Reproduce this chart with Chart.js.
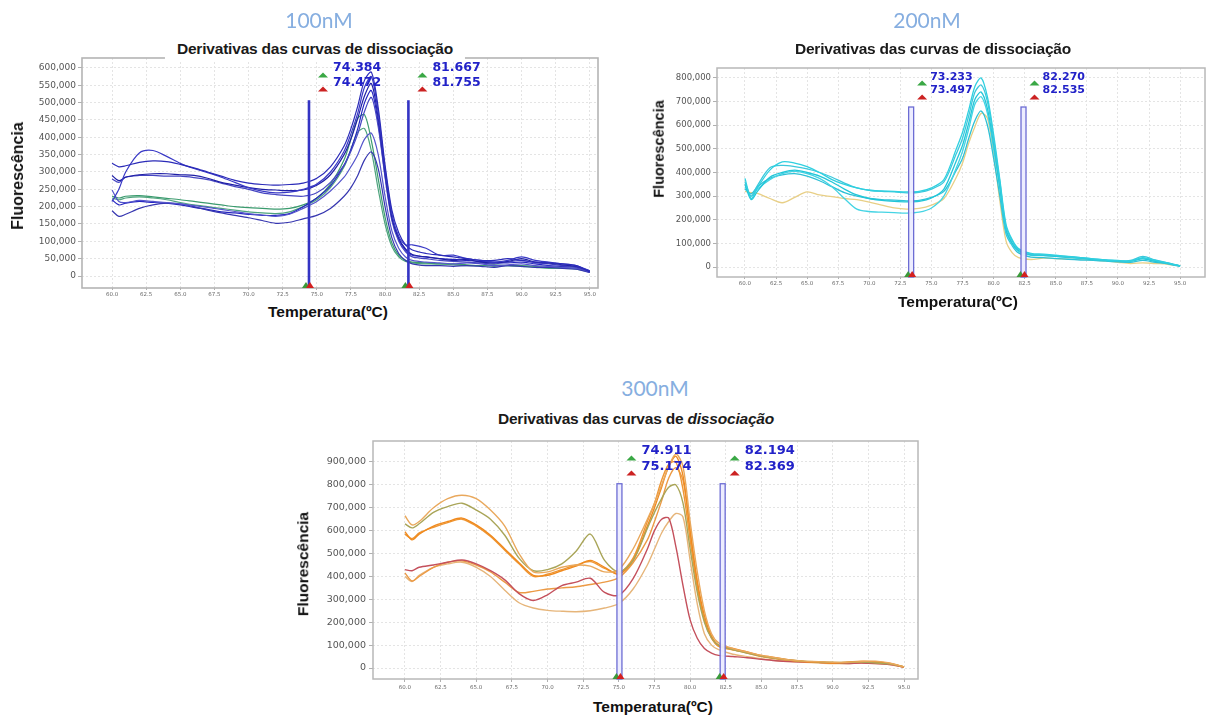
<!DOCTYPE html>
<html><head><meta charset="utf-8">
<script src="https://cdn.jsdelivr.net/npm/chart.js@4.4.1/dist/chart.umd.min.js"></script>
<style>
html,body{margin:0;padding:0;background:#fff;width:1211px;height:720px;overflow:hidden;position:relative;font-family:"Liberation Sans",Arial,sans-serif}
canvas{position:absolute}
.t{position:absolute;transform:translate(-50%,-50%);white-space:nowrap;line-height:1}
.nm{font-family:Lato,"Open Sans",sans-serif;font-size:21px;color:#86aee0}
.ttl{font-weight:bold;font-size:15.5px;color:#1a1a1a;letter-spacing:-0.2px}
.ax{font-weight:bold;color:#111}
.rot{transform:translate(-50%,-50%) rotate(-90deg)}
</style></head><body>
<canvas id="c1" width="612" height="302" style="left:0;top:0"></canvas>
<canvas id="c2" width="571" height="300" style="left:640px;top:0"></canvas>
<canvas id="c3" width="640" height="265" style="left:290px;top:430px"></canvas>

<div class="t nm" style="left:319px;top:19px">100nM</div>
<div class="t nm" style="left:927px;top:19px">200nM</div>
<div class="t nm" style="left:655px;top:387px">300nM</div>

<div class="t ttl" style="left:315px;top:49px;background:#fff;padding:4px 12px">Derivativas das curvas de dissociação</div>
<div class="t ttl" style="left:933px;top:49px">Derivativas das curvas de dissociação</div>
<div class="t ttl" style="left:636px;top:419px">Derivativas das curvas de <i>dissociação</i></div>

<div class="t ax rot" style="left:18px;top:176px;font-size:16px">Fluorescência</div>
<div class="t ax rot" style="left:659px;top:149px;font-size:14.5px">Fluorescência</div>
<div class="t ax rot" style="left:303px;top:564px;font-size:15.5px">Fluorescência</div>

<div class="t ax" style="left:328px;top:312px;font-size:15.5px">Temperatura(ºC)</div>
<div class="t ax" style="left:958px;top:302px;font-size:15.5px">Temperatura(ºC)</div>
<div class="t ax" style="left:653px;top:707px;font-size:15.5px">Temperatura(ºC)</div>

<script>
// ---- shared temperature grid (ºC) and axis ticks ----
const temps = [60,60.5,61,62,63,64,65,66,67,68,69,70,71,72,73,74,75,76,77,77.5,78,78.5,79,79.5,80,80.5,81,81.5,82,83,84,85,86,87,88,89,90,91,92,93,94,95];
const xTicks = [60,62.5,65,67.5,70,72.5,75,77.5,80,82.5,85,87.5,90,92.5,95];
const yTicks100 = [0,50,100,150,200,250,300,350,400,450,500,550,600];
const yTicks200 = [0,50,100,150,200,250,300,350,400,450,500,550,600,650,700,750,800];
const yTicks300 = [0,100,200,300,400,500,600,700,800,900];

// ---- melting temperature markers ----
const melt100 = [74.384, 74.472, 81.667, 81.755];
const melt200 = [73.233, 73.497, 82.270, 82.535];
const melt300 = [74.911, 75.174, 82.194, 82.369];

// ---- 100nM curves (fluorescence derivative, thousands) ----
const n100_1 = [325,315,318, 328,332,330,322,312,300,288,276, 268,264,262,264,268,282,315, 375,425,490,565,588,485,320,190,125,90,75, 65,60,55,50,45,45,50,45,40,38,35,30,12];
const n100_2 = [215,250,300, 355,362,345,325,310,298,285,270, 255,245,240,242,250,265,300, 360,410,470,545,575,470,310,180,115,90,90, 80,60,60,50,45,40,45,55,45,40,35,30,15];
const n100_3 = [290,275,285, 292,295,295,292,290,282,270,262, 255,250,248,246,248,262,292, 350,395,455,520,555,455,300,170,110,78,62, 55,50,45,48,40,38,42,50,40,38,32,28,15];
const n100_4 = [280,270,285, 290,290,288,288,284,278,268,258, 250,240,235,232,230,240,270, 320,360,410,475,515,430,285,160,100,70,55, 50,45,42,40,38,35,40,45,38,35,30,25,10];
const n100_5 = [248,215,212, 218,215,212,208,203,198,192,186, 180,176,172,178,195,215,245, 285,315,350,395,412,350,230,130,80,55,45, 40,38,35,38,35,30,32,35,30,28,25,22,15];
const n100_6 = [188,172,178, 195,205,210,208,200,190,182,175, 168,160,152,155,165,175,195, 230,255,290,335,358,310,200,110,65,45,35, 30,30,28,30,28,25,30,28,25,25,22,20,10];
const n100_7 = [220,205,210, 215,212,210,205,198,192,185,182, 178,175,175,180,200,225,260, 320,365,425,500,535,440,290,165,105,75,60, 55,50,48,45,42,40,38,40,35,30,28,25,12];
const n100_8 = [230,225,230, 232,228,224,220,215,210,205,200, 197,195,193,195,205,225,265, 335,395,455,465,390,280,170,95,60,45,40, 38,35,35,32,30,32,30,30,28,25,25,22,15];
const n100_9 = [225,220,225, 228,225,220,212,205,200,195,190, 185,182,180,185,200,220,255, 315,365,415,425,360,250,150,85,55,42,38, 35,35,32,30,30,28,30,28,25,22,22,20,12];

// ---- 200nM curves ----
const n200_1 = [375,290,335, 410,445,440,425,400,370,350,335, 325,322,320,318,320,335, 370,500,570,665,765,800,720,560,370,180,115,78, 58,55,50,45,40,35,30,28,25,40,28,18,5];
const n200_2 = [360,300,345, 420,430,425,415,400,380,355,335, 325,320,318,314,316,330, 360,480,545,640,740,770,700,540,360,170,110,75, 55,52,48,44,40,35,30,26,28,45,30,18,5];
const n200_3 = [350,285,320, 380,400,410,400,385,360,330,305, 290,282,278,276,278,292, 330,450,515,610,710,740,670,520,340,160,100,70, 52,50,45,42,38,32,28,24,25,35,24,16,4];
const n200_4 = [340,300,330, 370,395,405,395,375,340,290,245, 235,232,230,228,232,250, 300,420,490,585,690,720,650,500,330,150,95,66, 50,48,45,40,36,32,28,24,24,38,26,16,4];
const n200_5 = [330,310,340, 375,390,395,385,365,340,315,300, 290,285,283,280,282,295, 320,410,460,545,620,660,600,460,300,140,90,60, 42,40,36,33,30,28,25,22,20,28,20,14,3];
const n200_6 = [320,315,312, 290,272,295,318,305,298,290,285, 275,262,250,245,248,262, 290,380,440,525,595,650,630,480,280,110,60,40, 32,38,36,34,33,30,26,20,15,18,15,12,5];

// ---- 300nM curves ----
const n300_1 = [665,625,640, 700,740,755,740,690,620,500,420, 420,440,450,445,420, 430,520,650,720,800,880,935,880,640,420,250,150,110, 85,70,55,45,35,30,28,25,25,28,30,22,5];
const n300_2 = [630,612,630, 680,705,720,690,650,580,480,425, 430,455,510,585,470, 420,470,610,680,740,790,800,720,520,330,200,130,100, 80,65,52,42,35,30,27,25,24,26,22,18,5];
const n300_3 = [595,560,585, 620,640,655,625,580,520,460,405, 405,425,445,470,440, 410,470,620,700,790,880,925,840,600,380,230,140,100, 85,70,55,45,35,28,25,22,25,30,28,20,5];
const n300_4 = [585,565,590, 615,635,650,620,575,515,455,400, 410,430,450,465,435, 415,480,640,720,820,890,900,780,560,350,210,135,95, 80,68,52,42,34,28,26,23,24,28,26,18,5];
const n300_5 = [430,425,440, 450,462,472,455,425,385,325,295, 320,360,375,392,330, 318,390,520,600,650,655,530,360,210,130,85,65,55, 50,45,38,32,28,26,25,22,20,22,20,15,4];
const n300_6 = [415,380,400, 440,462,468,450,420,375,330,335, 345,350,355,365,375, 395,460,560,640,730,830,875,820,600,370,210,130,95, 80,65,50,40,32,28,25,22,22,25,22,18,4];
const n300_7 = [400,378,405, 440,455,462,440,400,340,285,262, 252,248,246,250,262, 282,345,450,520,590,640,675,660,470,280,150,100,80, 60,50,40,33,28,25,22,20,20,22,20,15,3];

// ---- styles ----
const colors100 = ['#2b2bb8','#3a3ac6','#2020a6','#4646c2','#5555cc','#3636b0','#2424c0','#3b9b6e','#4fa47e'];
const colors200 = ['#2fd0e0','#3cc8dc','#22c6d8','#45d4e4','#2ec0d6','#e8cf86'];
const colors300 = ['#e9a85c','#a9a558','#f08a1e','#ee9634','#c4505c','#ec9a45','#e6b57a'];

function fmtY(v){ return String(Math.round(v*1000)).replace(/\B(?=(\d{3})+(?!\d))/g, ','); }

function tri(ctx, cx, cy, w, h, color){
  ctx.beginPath();
  ctx.moveTo(cx - w/2, cy + h/2);
  ctx.lineTo(cx, cy - h/2);
  ctx.lineTo(cx + w/2, cy + h/2);
  ctx.closePath();
  ctx.fillStyle = color; ctx.fill();
}

const cursorPlugin = {
  id: 'cursors',
  beforeDatasetsDraw(chart, args, o){
    const {ctx, chartArea:a} = chart;
    ctx.save();
    ctx.strokeStyle = o.frameColor; ctx.lineWidth = o.frameWidth;
    ctx.strokeRect(a.left, a.top, a.right - a.left, a.bottom - a.top);
    ctx.restore();
  },
  afterDatasetsDraw(chart, args, o){
    const {ctx, chartArea:a, scales:{x, y}} = chart;
    const m = o.melts;
    ctx.save();
    [[m[0], m[1]], [m[2], m[3]]].forEach(([p, q]) => {
      const px = x.getPixelForValue((p + q) / 2);
      const top = y.getPixelForValue(o.top);
      const bot = a.bottom;
      if (o.style === 'solid') {
        ctx.fillStyle = o.lineColor;
        ctx.fillRect(px - 1.3, top, 2.6, bot - top);
      } else {
        ctx.fillStyle = 'rgba(236,236,255,0.95)';
        ctx.fillRect(px - 2.5, top, 5, bot - top);
        ctx.strokeStyle = o.lineColor; ctx.lineWidth = 1.3;
        ctx.strokeRect(px - 2.5, top, 5, bot - top);
      }
      tri(ctx, px - 3, bot - 3, 8, 6, '#3a9a3a');
      tri(ctx, px + 1, bot - 3, 8, 6, '#d42020');
      tri(ctx, px + o.triDx, a.top + o.gTri, 10, 5, '#3aa845');
      tri(ctx, px + o.triDx, a.top + o.rTri, 10, 5, '#cc2222');
      ctx.font = 'bold ' + o.fontSize + 'px "DejaVu Sans"';
      ctx.fillStyle = '#2222c8';
      ctx.textAlign = 'left'; ctx.textBaseline = 'middle';
      ctx.fillText(p.toFixed(3), px + o.textDx, a.top + o.t1);
      ctx.fillText(q.toFixed(3), px + o.textDx, a.top + o.t2);
    });
    ctx.restore();
  }
};

function build(id, geo, series, colors, lw, yTicks, xr, yr, cur, f){
  new Chart(document.getElementById(id), {
    type: 'line',
    data: {
      datasets: series.map((s, i) => ({
        data: temps.map((t, j) => ({x: t, y: s[j]})),
        borderColor: colors[i], borderWidth: lw, pointRadius: 0, tension: 0.3, fill: false
      }))
    },
    options: {
      responsive: false, animation: false, events: [],
      layout: {padding: {top: geo.pt, right: geo.pr, left: 0, bottom: 0}},
      plugins: {legend: {display: false}, tooltip: {enabled: false}, title: {display: false}, cursors: cur},
      scales: {
        x: {
          type: 'linear', min: xr[0], max: xr[1],
          afterFit: s => { s.height = geo.xh; },
          afterBuildTicks: s => { s.ticks = xTicks.map(v => ({value: v})); },
          ticks: {autoSkip: false, maxRotation: 0, minRotation: 0, font: {family: 'DejaVu Sans', size: f.x}, color: '#6a6a6a', padding: f.xpad, callback: v => v.toFixed(1)},
          grid: {color: '#e4e4e4', lineWidth: 1, tickLength: f.xtl, tickColor: '#b0b0b0'},
          border: {display: false, dash: [2, 2]}
        },
        y: {
          min: yr[0], max: yr[1],
          afterFit: s => { s.width = geo.yw; },
          afterBuildTicks: s => { s.ticks = yTicks.map(v => ({value: v})); },
          ticks: {font: {family: 'DejaVu Sans', size: f.y}, color: '#555', padding: f.ypad, callback: v => fmtY(v)},
          grid: {color: '#e4e4e4', lineWidth: 1, tickLength: 4, tickColor: '#b0b0b0'},
          border: {display: false, dash: [2, 2]}
        }
      }
    },
    plugins: [cursorPlugin]
  });
}

build('c1', {pt: 58, pr: 14, yw: 82, xh: 14},
  [n100_1, n100_2, n100_3, n100_4, n100_5, n100_6, n100_7, n100_8, n100_9], colors100, 1.2,
  yTicks100, [57.8, 95.6], [-34.6, 628.8],
  {melts: melt100, top: 507, style: 'solid', lineColor: '#3434c4', fontSize: 12.5, textDx: 24, t1: 10, t2: 25, triDx: 14, gTri: 17, rTri: 31, frameColor: '#b4b4b4', frameWidth: 1.6},
  {x: 5.5, xpad: 1, xtl: 2, y: 9, ypad: 2});

build('c2', {pt: 68, pr: 6, yw: 77, xh: 23},
  [n200_1, n200_2, n200_3, n200_4, n200_5, n200_6], colors200, 1.3,
  yTicks200, [57.75, 97.0], [-42, 842],
  {melts: melt200, top: 677, style: 'hollow', lineColor: '#6c6cd4', fontSize: 11, textDx: 19, t1: 9, t2: 22, triDx: 11, gTri: 15, rTri: 29, frameColor: '#b8b8b8', frameWidth: 1.5},
  {x: 5.5, xpad: 1, xtl: 2, y: 8.5, ypad: 2});

build('c3', {pt: 11, pr: 12, yw: 83, xh: 16},
  [n300_1, n300_2, n300_3, n300_4, n300_5, n300_6, n300_7], colors300, 1.4,
  yTicks300, [57.76, 95.98], [-48, 991.7],
  {melts: melt300, top: 805, style: 'hollow', lineColor: '#6c6cd4', fontSize: 13, textDx: 22, t1: 10, t2: 26, triDx: 12, gTri: 17, rTri: 32, frameColor: '#b8b8b8', frameWidth: 1.5},
  {x: 5.5, xpad: 2, xtl: 3, y: 9.5, ypad: 3});
</script>
</body></html>
